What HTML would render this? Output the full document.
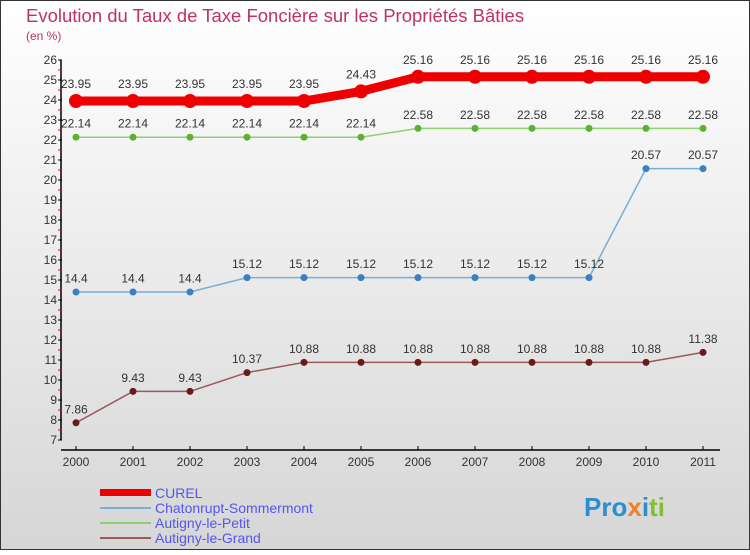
<!DOCTYPE html>
<html><head><meta charset="utf-8"><style>
body{margin:0;width:750px;height:550px;overflow:hidden;font-family:"Liberation Sans",sans-serif}
</style></head><body>
<svg width="750" height="550" xmlns="http://www.w3.org/2000/svg">
<defs><linearGradient id="bg" x1="0" y1="0" x2="0" y2="1"><stop offset="0" stop-color="#ffffff"/><stop offset="1" stop-color="#d6d6d6"/></linearGradient></defs>
<rect x="0.5" y="0.5" width="749" height="549" fill="url(#bg)" stroke="#333"/>
<text x="26" y="22" font-size="18.5" fill="#c0306a">Evolution du Taux de Taxe Foncière sur les Propriétés Bâties</text>
<text x="26" y="40" font-size="12" fill="#c0306a">(en %)</text>
<g id="axes"></g>
<g id="series"></g>
<g>
<rect x="100" y="489" width="51" height="7" fill="#e00"/>
<text x="155" y="498" font-size="14" fill="#5555ee">CUREL</text>
<rect x="100" y="507" width="51" height="2" fill="#7aaed4"/>
<text x="155" y="513" font-size="14" fill="#5555ee">Chatonrupt-Sommermont</text>
<rect x="100" y="522" width="51" height="2" fill="#8fd070"/>
<text x="155" y="528" font-size="14" fill="#5555ee">Autigny-le-Petit</text>
<rect x="100" y="537" width="51" height="2" fill="#9a5a5a"/>
<text x="155" y="543" font-size="14" fill="#5555ee">Autigny-le-Grand</text>
</g>
<text x="584" y="516" font-size="26" font-weight="bold"><tspan fill="#2a8fd0">Pro</tspan><tspan fill="#f08020">x</tspan><tspan fill="#2a8fd0">i</tspan><tspan fill="#80c030">ti</tspan></text>
</svg>
<script>
const years=[2000,2001,2002,2003,2004,2005,2006,2007,2008,2009,2010,2011];
const yTicks=[7,8,9,10,11,12,13,14,15,16,17,18,19,20,21,22,23,24,25,26];
const curel=[23.95,23.95,23.95,23.95,23.95,24.43,25.16,25.16,25.16,25.16,25.16,25.16];
const chatonrupt=[14.4,14.4,14.4,15.12,15.12,15.12,15.12,15.12,15.12,15.12,20.57,20.57];
const autignyPetit=[22.14,22.14,22.14,22.14,22.14,22.14,22.58,22.58,22.58,22.58,22.58,22.58];
const autignyGrand=[7.86,9.43,9.43,10.37,10.88,10.88,10.88,10.88,10.88,10.88,10.88,11.38];
const NS="http://www.w3.org/2000/svg";
const X=i=>76+i*57;
const Y=v=>60+(26-v)*20;
function mk(t,a,p){const e=document.createElementNS(NS,t);for(const k in a)e.setAttribute(k,a[k]);p.appendChild(e);return e;}
const ax=document.getElementById('axes');
const yl=mk('line',{x1:61,y1:60,x2:61,y2:440,stroke:'#000','stroke-width':1.5},ax);


const xl=mk('line',{x1:61,y1:450,x2:720,y2:450,stroke:'#000','stroke-width':1.5},ax);


yTicks.forEach(v=>{
  mk('line',{x1:58,y1:Y(v),x2:62,y2:Y(v),stroke:'#000'},ax);
  if(v<26)mk('line',{x1:58,y1:Y(v+0.5),x2:62,y2:Y(v+0.5),stroke:'#e00'},ax);
  const t=mk('text',{x:57,y:Y(v)+4,'font-size':12,'text-anchor':'end',fill:'#333'},ax);
  t.textContent=v;
  
  
});
years.forEach((y,i)=>{
  mk('line',{x1:X(i),y1:446,x2:X(i),y2:450,stroke:'#000'},ax);
  const t=mk('text',{x:X(i),y:466,'font-size':12,'text-anchor':'middle',fill:'#333'},ax);
  t.textContent=y;
  
  
});
const sg=document.getElementById('series');
function series(vals,color,lw,r,dot,name){
  const g=mk('g',{},sg);
  
  
  const pl=mk('polyline',{points:vals.map((v,i)=>X(i)+','+Y(v)).join(' '),fill:'none',stroke:color,'stroke-width':lw,'stroke-linejoin':'round'},g);
  
  
  vals.forEach((v,i)=>{
    const c=mk('circle',{cx:X(i),cy:Y(v),r:r,fill:dot},g);
    
    
    const t=mk('text',{x:X(i),y:Y(v)-r-6,'font-size':12,'text-anchor':'middle',fill:'#333'},g);
    t.textContent=v;
    
    
  });
}
series(autignyGrand,'#9a5a5a',1.5,3.5,'#6a1a1a','autigny-grand');
series(chatonrupt,'#7aaed4',1.5,3.5,'#3a80c0','chatonrupt');
series(autignyPetit,'#8fd070',1.5,3.5,'#60b030','autigny-petit');
series(curel,'#e00',9,7,'#e00','curel');
</script>
</body></html>
